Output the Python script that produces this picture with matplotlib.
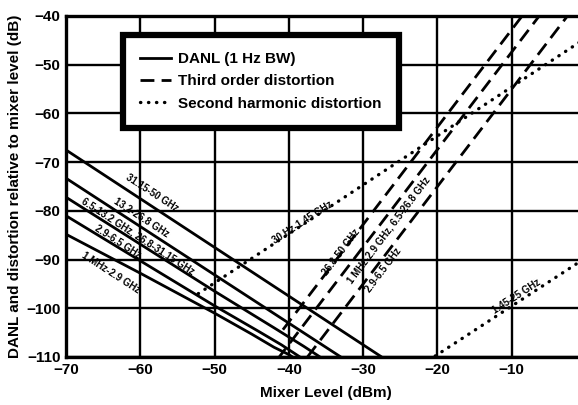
import matplotlib
matplotlib.use("Agg")
import matplotlib.pyplot as plt
from matplotlib.lines import Line2D

plt.rcParams['font.family'] = ['Liberation Sans', 'DejaVu Sans']

# ---- data ----
x_ticks = [-70, -60, -50, -40, -30, -20, -10, 0]
y_ticks = [-110, -100, -90, -80, -70, -60, -50, -40]

danl_labels = ["31.15-50 GHz", "13.2-26.8 GHz", "6.5-13.2 GHz, 26.8-31.15 GHz",
               "2.9-6.5 GHz", "1 MHz-2.9 GHz"]
danl_x = [
    [-70, -27.5],
    [-70, -33.0],
    [-70, -50, -42, -38, -35.8],
    [-70, -50, -44, -41, -38.5],
    [-70, -60, -50, -45, -42, -40, -39.5],
]
danl_y = [
    [-67.5, -110],
    [-73.3, -110],
    [-77.2, -96.5, -104.0, -107.8, -110],
    [-81.0, -99.5, -104.8, -107.5, -110],
    [-84.8, -92.8, -101.0, -105.3, -108.0, -109.5, -110],
]
danl_label_pos = [(-58.4, -76.3), (-59.9, -81.4), (-60.3, -85.2), (-63.0, -86.4), (-64.0, -92.8)]

toi_labels = ["26.8-50 GHz", "1 MHz-2.9 GHz, 6.5-26.8 GHz", "2.9-6.5 GHz"]
toi_x = [[-40.8, -8.6], [-41.6, -6.3], [-37.5, -2.5]]
toi_y = [[-104.4, -40], [-110.6, -40], [-110.0, -40]]
toi_label_pos = [(-33.0, -88.5), (-26.6, -84.0), (-27.3, -92.2)]

shd_labels = ["30 Hz-1.45 GHz", "1.45-25 GHz"]
shd_x = [[-52.2, 0], [-20.3, 0]]
shd_y = [[-97.0, -44.5], [-109.8, -89.6]]
shd_label_pos = [(-38.1, -82.3), (-9.3, -97.6)]

legend_labels = ["DANL (1 Hz BW)", "Third order distortion", "Second harmonic distortion"]

# ---- figure ----
fig = plt.figure(figsize=(5.78, 4.05), dpi=100)
ax = fig.add_axes([66/578, 1-357/405, 520/578, 341/405])
ax.set_xlim(-70, 0)
ax.set_ylim(-110, -40)
ax.set_xticks(x_ticks)
ax.set_yticks(y_ticks)
ax.set_xticklabels([f"\u2212{abs(v)}" if v < 0 else str(v) for v in x_ticks],
                   fontsize=11, fontweight='bold')
ax.set_yticklabels([f"\u2212{abs(v)}" for v in y_ticks], fontsize=11, fontweight='bold')
ax.tick_params(length=0, pad=4)
ax.grid(True, color='black', linewidth=1.7)
for s in ax.spines.values():
    s.set_linewidth(2.4)
ax.set_axisbelow(True)

lw = 2.0
for xs, ys in zip(danl_x, danl_y):
    ax.plot(xs, ys, color='black', linewidth=lw, solid_capstyle='butt')
for xs, ys in zip(toi_x, toi_y):
    ax.plot(xs, ys, color='black', linewidth=lw, linestyle=(0, (5, 2.6)), dash_capstyle='butt')
for xs, ys in zip(shd_x, shd_y):
    ax.plot(xs, ys, color='black', linewidth=2.4, linestyle=(0, (0.1, 2.3)), dash_capstyle='round')

lab_kw = dict(fontsize=7, fontweight='bold', ha='center', va='center',
              rotation_mode='anchor', color='black')
for t, (x, y) in zip(danl_labels, danl_label_pos):
    ax.text(x, y, t, rotation=-33, **lab_kw)
for t, (x, y) in zip(toi_labels, toi_label_pos):
    ax.text(x, y, t, rotation=53, **lab_kw)
for t, (x, y) in zip(shd_labels, shd_label_pos):
    ax.text(x, y, t, rotation=33, **lab_kw)

handles = [Line2D([], [], color='black', linewidth=lw),
           Line2D([], [], color='black', linewidth=lw, linestyle=(0, (5, 2.6))),
           Line2D([], [], color='black', linewidth=2.4, linestyle=(0, (0.1, 2.3)), dash_capstyle='round')]
leg = ax.legend(handles, legend_labels, loc='upper left', bbox_to_anchor=(0.11, 0.944),
                fancybox=False, framealpha=1, edgecolor='black', fontsize=11,
                handlelength=2.0, handletextpad=0.5, labelspacing=0.55, borderpad=1.1,
                borderaxespad=0)
leg.get_frame().set_linewidth(4.5)
for t in leg.get_texts():
    t.set_fontweight('bold')

ax.set_xlabel("Mixer Level (dBm)", fontsize=11, fontweight='bold', labelpad=7)
ax.set_ylabel("DANL and distortion relative to mixer level (dB)", fontsize=11,
              fontweight='bold', labelpad=3)

fig.savefig("out.png", dpi=100)
